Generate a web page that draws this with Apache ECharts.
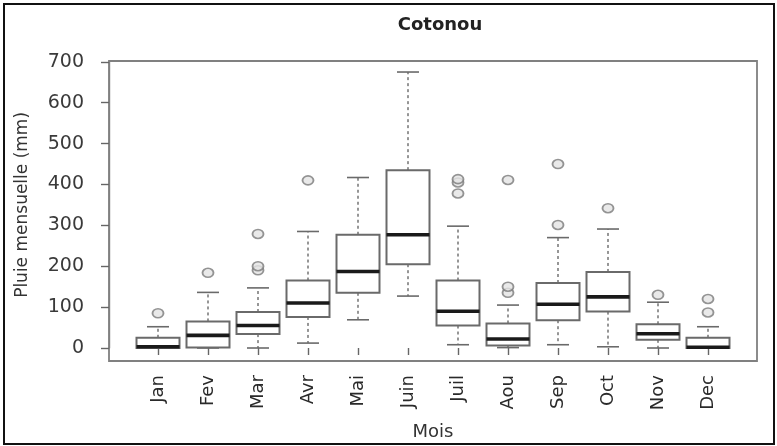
<!DOCTYPE html>
<html><head><meta charset="utf-8">
<script src="https://cdn.jsdelivr.net/npm/echarts@6/dist/echarts.min.js"></script>
<style>html,body{margin:0;padding:0;background:#fff}#c{width:777px;height:446px}</style>
</head><body><div id="c"></div>
<script>
// Monthly rainfall at Cotonou (mm) – boxplot statistics
const months = ['Jan','Fev','Mar','Avr','Mai','Juin','Juil','Aou','Sep','Oct','Nov','Dec'];
const whiskerLow  = [0, 0, 0, 12, 69, 127, 8, 1, 8, 3, 0, 0];
const q1          = [0, 1, 34, 76, 135, 205, 55, 6, 68, 89, 20, 0];
const median      = [3, 31, 55, 110, 187, 277, 90, 22, 107, 125, 35, 2];
const q3          = [25, 65, 88, 165, 277, 435, 165, 60, 159, 186, 58, 25];
const whiskerHigh = [52, 136, 147, 285, 417, 675, 298, 105, 270, 291, 112, 52];
const outliers = [
  ['Jan', 85], ['Fev', 184], ['Mar', 190], ['Mar', 200], ['Mar', 279],
  ['Avr', 410], ['Juil', 378], ['Juil', 405], ['Juil', 413],
  ['Aou', 135], ['Aou', 150], ['Aou', 411], ['Sep', 301], ['Sep', 450],
  ['Oct', 342], ['Nov', 130], ['Dec', 87], ['Dec', 120]
];
const titleText = 'Cotonou';
const yName = 'Pluie mensuelle (mm)';
const xName = 'Mois';

const FONT = 'DejaVu Sans';
const grey = '#6a6a6a';

const boxData = months.map((m, i) => [i, whiskerLow[i], q1[i], median[i], q3[i], whiskerHigh[i]]);
const outlierData = outliers.map(o => [months.indexOf(o[0]), o[1]]);

function renderBox(params, api) {
  const i = api.value(0);
  const band = api.size([1, 0])[0];
  const hw = band * 0.43, cw = band * 0.22;
  const p = k => api.coord([i, api.value(k)]);
  const lo = p(1), b = p(2), m = p(3), t = p(4), hi = p(5);
  const x = lo[0];
  const wl = { stroke: grey, lineWidth: 1.4, lineDash: [3, 3], fill: null };
  const cap = { stroke: grey, lineWidth: 1.6, fill: null };
  return {
    type: 'group',
    children: [
      { type: 'line', shape: { x1: x, y1: t[1], x2: x, y2: hi[1] }, style: wl },
      { type: 'line', shape: { x1: x, y1: b[1], x2: x, y2: lo[1] }, style: wl },
      { type: 'line', shape: { x1: x - cw, y1: hi[1], x2: x + cw, y2: hi[1] }, style: cap },
      { type: 'line', shape: { x1: x - cw, y1: lo[1], x2: x + cw, y2: lo[1] }, style: cap },
      { type: 'rect', shape: { x: x - hw, y: t[1], width: 2 * hw, height: b[1] - t[1] },
        style: { fill: '#fff', stroke: grey, lineWidth: 2 } },
      { type: 'line', shape: { x1: x - hw, y1: m[1], x2: x + hw, y2: m[1] },
        style: { stroke: '#1a1a1a', lineWidth: 3.6 } }
    ]
  };
}

const chart = echarts.init(document.getElementById('c'), null, { renderer: 'canvas' });
chart.setOption({
  backgroundColor: '#fff',
  animation: false,
  title: {
    text: titleText, left: 435, top: 11, textAlign: 'center',
    textStyle: { fontFamily: FONT, fontSize: 18, fontWeight: 'bold', color: '#222' }
  },
  graphic: [{
    type: 'rect', shape: { x: 4, y: 4, width: 770, height: 440 },
    style: { fill: null, stroke: '#111', lineWidth: 2 }, silent: true, z: 100
  }],
  grid: [
    { left: 133, right: 44, top: 61.8, bottom: 96.1, containLabel: false },
    { left: 109, right: 20, top: 61, bottom: 85, show: true, borderColor: '#808080', borderWidth: 1.8, backgroundColor: 'transparent' }
  ],
  xAxis: [
    {
      gridIndex: 0, type: 'category', data: months, boundaryGap: true, offset: 11,
      axisLine: { show: false },
      axisTick: { show: true, alignWithLabel: true, length: 7, lineStyle: { color: '#666', width: 1.4 } },
      axisLabel: { rotate: 90, margin: 16, interval: 0, fontFamily: FONT, fontSize: 18, color: '#2a2a2a' },
      name: xName, nameLocation: 'middle', nameGap: 64,
      nameTextStyle: { fontFamily: FONT, fontSize: 18, color: '#333' }
    },
    { gridIndex: 1, type: 'value', min: 0, max: 1, show: false }
  ],
  yAxis: [
    {
      gridIndex: 0, type: 'value', min: 0, max: 700, interval: 100, offset: 24,
      splitLine: { show: false },
      axisLine: { show: true, lineStyle: { color: '#808080', width: 1.4 } },
      axisTick: { show: true, length: 8, lineStyle: { color: '#666', width: 1.4 } },
      axisLabel: { margin: 25, fontFamily: FONT, fontSize: 19, color: '#3a3a3a' },
      name: yName, nameLocation: 'middle', nameGap: 78, nameRotate: 90,
      nameTextStyle: { fontFamily: FONT, fontSize: 17, color: '#333' }
    },
    { gridIndex: 1, type: 'value', min: 0, max: 1, show: false }
  ],
  series: [
    {
      type: 'custom', xAxisIndex: 0, yAxisIndex: 0, renderItem: renderBox,
      data: boxData, encode: { x: 0, y: [1, 2, 3, 4, 5] }, z: 3
    },
    {
      type: 'scatter', xAxisIndex: 0, yAxisIndex: 0, data: outlierData,
      symbol: 'circle', symbolSize: [11, 9],
      itemStyle: { color: '#e4e4e4', borderColor: '#7a7a7a', borderWidth: 1.7 }, z: 4
    }
  ]
});
</script>
</body></html>
